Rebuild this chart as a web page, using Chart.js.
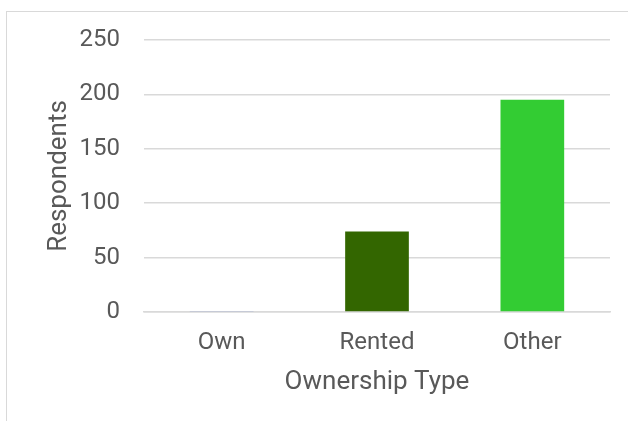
<!DOCTYPE html>
<html>
<head>
<meta charset="utf-8">
<script src="https://cdn.jsdelivr.net/npm/chart.js@4"></script>
<style>
    html, body { margin: 0; padding: 0; background: #fff; overflow: hidden; }
    #wrap { position: relative; width: 628px; height: 421px; }
    #frame { position: absolute; left: 6px; top: 11px; width: 700px; height: 500px; border: 1px solid #d9d9d9; box-sizing: border-box; }
    canvas { position: absolute; left: 0; top: 0; }
</style>
</head>
<body>
<div id="wrap">
    <div id="frame"></div>
    <canvas id="myChart" width="628" height="421"></canvas>
</div>
<script>
const categories = ['Own', 'Rented', 'Other'];
const respondents = [1, 74, 195];
const barColors = ['#8f9fd0', '#336600', '#33cc33'];
const yTicks = [0, 50, 100, 150, 200, 250];

const ctx = document.getElementById('myChart').getContext('2d');
const textColor = '#595959';

const myChart = new Chart(ctx, {
    type: 'bar',
    data: {
        labels: categories,
        datasets: [{
            data: respondents,
            backgroundColor: barColors,
            barPercentage: 0.41,
            categoryPercentage: 1
        }]
    },
    options: {
        responsive: false,
        animation: false,
        layout: { padding: { left: 44, top: 40, right: 18, bottom: 23 } },
        plugins: {
            legend: { display: false },
            tooltip: { enabled: false }
        },
        scales: {
            x: {
                grid: { display: false, drawTicks: false },
                border: { display: true, color: '#d9d9d9', width: 1.5, z: -1 },
                ticks: { color: textColor, font: { family: 'Roboto', size: 24 }, padding: 17 },
                title: { display: true, text: 'Ownership Type', color: textColor, font: { family: 'Roboto', size: 26 }, padding: 0 },
                afterFit: axis => { axis.height = 86; }
            },
            y: {
                min: 0,
                max: 250,
                afterBuildTicks: axis => { axis.ticks = yTicks.map(v => ({ value: v })); },
                grid: { color: '#d9d9d9', lineWidth: 1.5, drawTicks: false },
                border: { display: false },
                ticks: { color: textColor, font: { family: 'Roboto', size: 24 }, padding: 24 },
                title: { display: true, text: 'Respondents', color: textColor, font: { family: 'Roboto', size: 26 }, padding: 0 },
                afterFit: axis => { axis.width = 100; }
            }
        }
    }
});
</script>
</body>
</html>
